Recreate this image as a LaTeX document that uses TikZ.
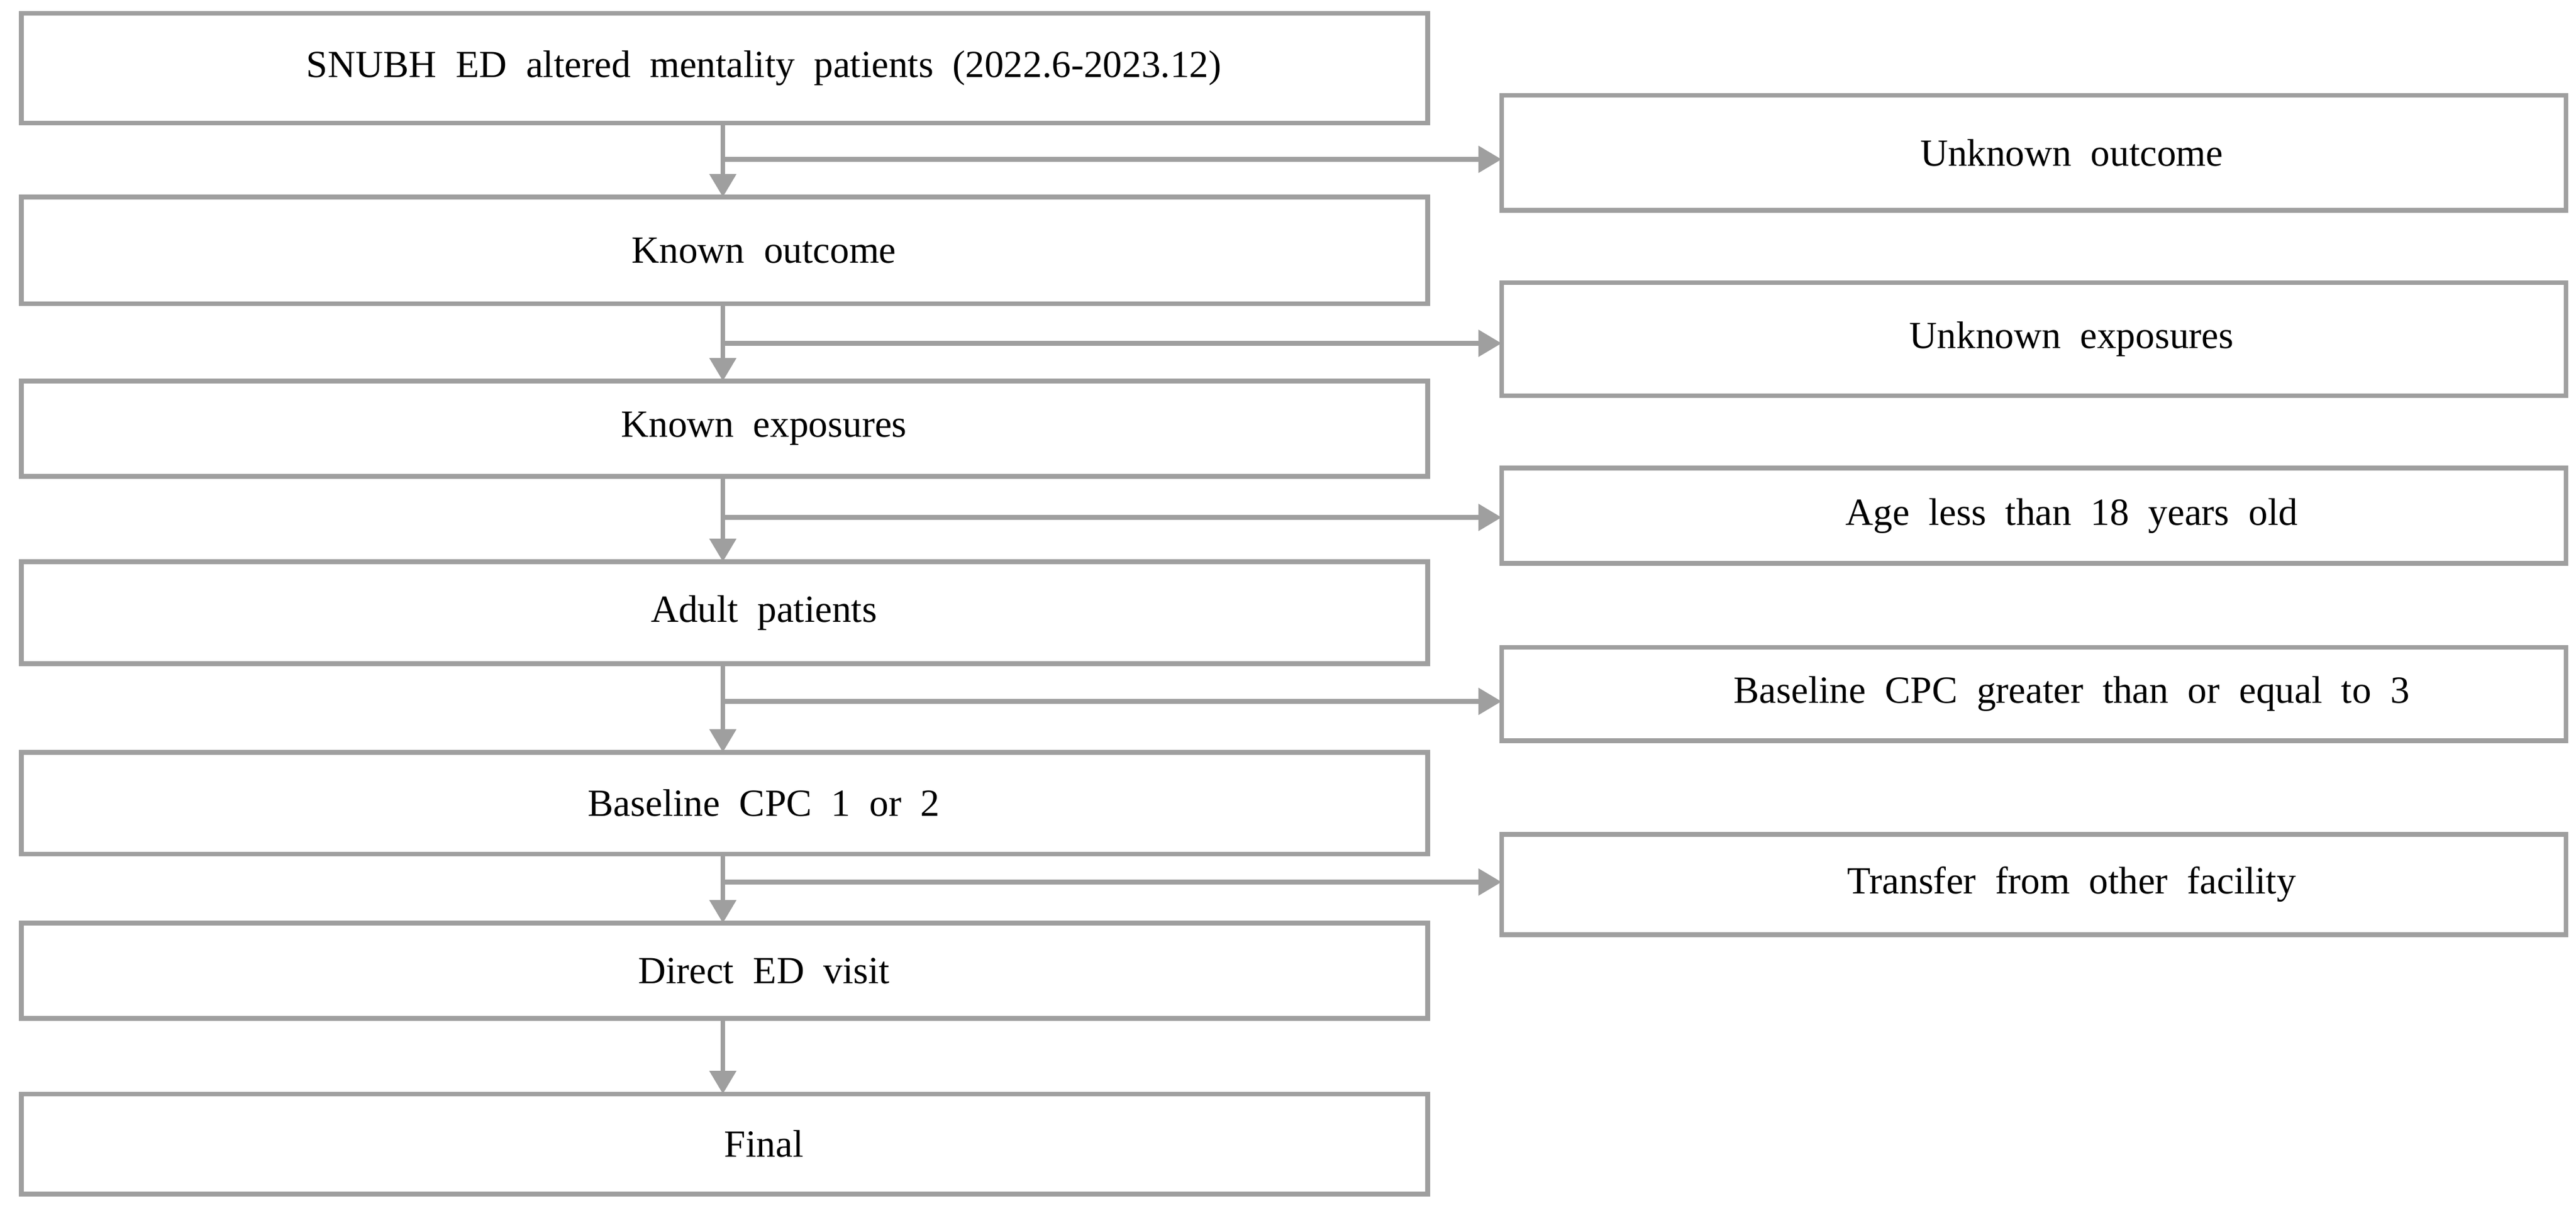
\documentclass[tikz,border=0pt]{standalone}
\usepackage{fontspec}
\setmainfont{Liberation Serif}
\usetikzlibrary{arrows.meta}
\begin{document}
\begin{tikzpicture}[x=0.02cm,y=-0.02cm,
  box/.style={draw=gray!75,line width=1.6pt},
  lbl/.style={font=\fontsize{13.3}{15}\selectfont,inner sep=0pt,anchor=center},
  arr/.style={draw=gray!75,line width=1.6pt,-{Triangle[length=8pt,width=9pt]}}]
\useasboundingbox (0,0) rectangle (1568,734);
\foreach \n/\a/\b/\t in {L1/8/75/{SNUBH\ \ ED\ \ altered\ \ mentality\ \ patients\ \ (2022.6-2023.12)},
  L2/120/185/{Known\ \ outcome},L3/232/290/{Known\ \ exposures},L4/342/404/{Adult\ \ patients},
  L5/458/520/{Baseline\ \ CPC\ \ 1\ \ or\ \ 2},L6/562/620/{Direct\ \ ED\ \ visit},L7/666/727/{Final}}{
  \draw[box] (13,\a) rectangle (869,\b);
  \node[lbl] (\n) at (465,{(\a+\b)/2}) {\t};
  \coordinate (\n t) at (440,\a); \coordinate (\n b) at (440,\b);}
\foreach \n/\a/\b/\t in {R1/58/128/{Unknown\ \ outcome},R2/172/241/{Unknown\ \ exposures},
  R3/285/343/{Age\ \ less\ \ than\ \ 18\ \ years\ \ old},R4/394/451/{Baseline\ \ CPC\ \ greater\ \ than\ \ or\ \ equal\ \ to\ \ 3},
  R5/508/569/{Transfer\ \ from\ \ other\ \ facility}}{
  \draw[box] (914,\a) rectangle (1562,\b);
  \node[lbl] (\n) at (1261,{(\a+\b)/2}) {\t};
  \coordinate (\n l) at (914,{(\a+\b)/2+(\b-\a)*0.02});}
\foreach \u/\v in {L1/L2,L2/L3,L3/L4,L4/L5,L5/L6,L6/L7}{\draw[arr] (\u b) -- (\v t);}
\foreach \y/\r in {97/R1,209/R2,315/R3,427/R4,537/R5}{
  \coordinate (s\r) at (440,\y);
  \draw[arr] (s\r) -- (914,\y);}
\end{tikzpicture}
\end{document}
